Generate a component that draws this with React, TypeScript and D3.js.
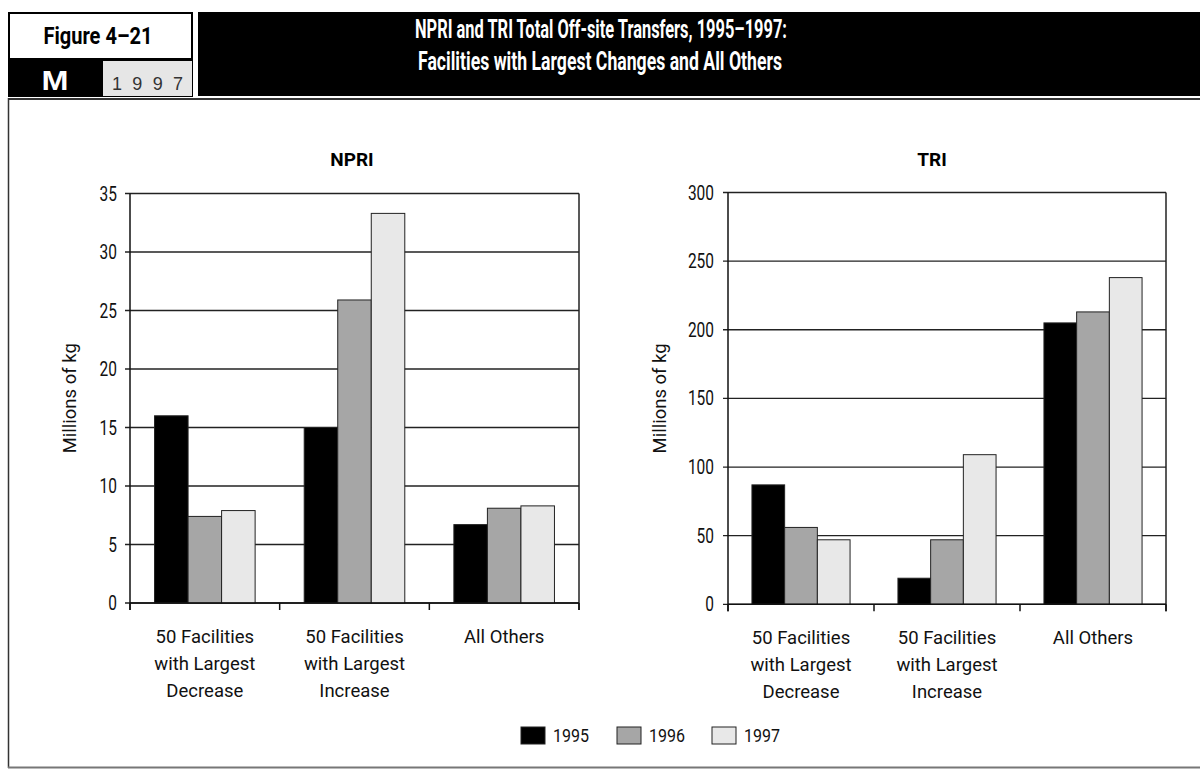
import React from "react";
import * as d3 from "d3";

const categories = ["dec", "inc", "others"];
const categoryLabels = [
  ["50 Facilities", "with Largest", "Decrease"],
  ["50 Facilities", "with Largest", "Increase"],
  ["All Others"],
];
const years = ["1995", "1996", "1997"];
const yearColors = ["#000000", "#a6a6a6", "#e8e8e8"];

const npri1995 = [16.0, 15.0, 6.7];
const npri1996 = [7.4, 25.9, 8.1];
const npri1997 = [7.9, 33.3, 8.3];
const npriTicks = [0, 5, 10, 15, 20, 25, 30, 35];

const tri1995 = [87, 19, 205];
const tri1996 = [56, 47, 213];
const tri1997 = [47, 109, 238];
const triTicks = [0, 50, 100, 150, 200, 250, 300];

const FONT = "Roboto, 'Liberation Sans', Arial, sans-serif";
const DIGIT_W = 8.7;

type PanelProps = {
  title: string;
  titleX: number;
  series: number[][];
  ticks: number[];
  yMax: number;
  x0: number;
  x1: number;
  yTop: number;
  yBottom: number;
  labelX: number;
  tickLabelGap: number;
};

function Panel(p: PanelProps) {
  const y = d3.scaleLinear().domain([0, p.yMax]).range([p.yBottom, p.yTop]);
  const xb = d3.scaleBand<string>().domain(categories).range([p.x0, p.x1]).padding(0);
  const bw = xb.bandwidth();
  const groupW = bw * 0.672;
  const xi = d3.scaleBand<string>().domain(years).range([0, groupW]).padding(0);
  const bandEdges = [...categories.map((c) => xb(c) as number), p.x1];
  return (
    <g>
      <text x={p.titleX} y={166} textAnchor="middle" fontFamily={FONT} fontWeight="bold" fontSize={19}>
        {p.title}
      </text>
      {p.ticks.map((t) => (
        <g key={t}>
          <line x1={p.x0 - 5} x2={p.x1} y1={y(t)} y2={y(t)} stroke="#222" strokeWidth={1.3} />
          <text
            x={p.x0 - 5 - p.tickLabelGap}
            y={y(t) + 7}
            textAnchor="end"
            fontFamily={FONT}
            fontSize={19.5}
            fill="#111"
            textLength={String(t).length * DIGIT_W}
            lengthAdjust="spacingAndGlyphs"
          >
            {t}
          </text>
        </g>
      ))}
      {categories.map((c, ci) =>
        years.map((yr, si) => {
          const v = p.series[si][ci];
          const bx = (xb(c) as number) + (bw - groupW) / 2 + (xi(yr) as number);
          return (
            <rect
              key={c + yr}
              x={bx}
              y={y(v)}
              width={xi.bandwidth()}
              height={y(0) - y(v)}
              fill={yearColors[si]}
              stroke="#222"
              strokeWidth={1}
            />
          );
        })
      )}
      <line x1={p.x0} x2={p.x0} y1={p.yTop} y2={p.yBottom + 7} stroke="#111" strokeWidth={1.5} />
      <line x1={p.x1} x2={p.x1} y1={p.yTop} y2={p.yBottom + 7} stroke="#222" strokeWidth={1.5} />
      <line x1={p.x0} x2={p.x1} y1={p.yBottom} y2={p.yBottom} stroke="#111" strokeWidth={1.5} />
      {bandEdges.map((e, i) => (
        <line key={i} x1={e} x2={e} y1={p.yBottom} y2={p.yBottom + 7} stroke="#111" strokeWidth={1.5} />
      ))}
      {categories.map((c, ci) =>
        categoryLabels[ci].map((ln, li) => (
          <text
            key={c + li}
            x={(xb(c) as number) + bw / 2}
            y={p.yBottom + 40 + li * 27}
            textAnchor="middle"
            fontFamily={FONT}
            fontSize={18.5}
            fill="#111"
          >
            {ln}
          </text>
        ))
      )}
      <text
        transform={`translate(${p.labelX},${(p.yTop + p.yBottom) / 2}) rotate(-90)`}
        textAnchor="middle"
        fontFamily={FONT}
        fontSize={18.5}
        fill="#111"
      >
        Millions of kg
      </text>
    </g>
  );
}

export default function App() {
  const legendX = [521, 617, 712];
  return (
    <svg width={1200} height={769} style={{ position: "absolute", left: 0, top: 0, background: "#fff" }}>
      {/* header */}
      <rect x={9} y={13} width={183} height={46} fill="#fff" stroke="#000" strokeWidth={2} />
      <text x={98} y={44} textAnchor="middle" fontFamily={FONT} fontWeight="bold" fontSize={23} textLength={109} lengthAdjust="spacingAndGlyphs">
        Figure 4–21
      </text>
      <rect x={8} y={60} width={185} height={37} fill="#000" />
      <rect x={103} y={61} width={89} height={35} fill="#e6e6e6" />
      <text x={55} y={90} textAnchor="middle" fill="#fff" fontFamily="'Liberation Sans', Arial, sans-serif" fontWeight="bold" fontSize={21} textLength={27} lengthAdjust="spacingAndGlyphs" transform="translate(55,90) scale(1,1.3) translate(-55,-90)">
        M
      </text>
      <text x={112} y={90} fill="#333" fontFamily="'Liberation Sans', Arial, sans-serif" fontSize={18} textLength={71} lengthAdjust="spacing">
        1997
      </text>
      <rect x={198} y={12} width={1002} height={84} fill="#000" />
      <text x={601} y={38} textAnchor="middle" fill="#fff" fontFamily={FONT} fontWeight="bold" fontSize={26} textLength={372} lengthAdjust="spacingAndGlyphs">
        NPRI and TRI Total Off-site Transfers, 1995–1997:
      </text>
      <text x={600} y={70} textAnchor="middle" fill="#fff" fontFamily={FONT} fontWeight="bold" fontSize={26} textLength={364} lengthAdjust="spacingAndGlyphs">
        Facilities with Largest Changes and All Others
      </text>
      {/* frame */}
      <line x1={8} x2={1200} y1={99} y2={99} stroke="#333" strokeWidth={2} />
      <line x1={8.5} x2={8.5} y1={98} y2={768} stroke="#333" strokeWidth={1.5} />
      <line x1={8} x2={1200} y1={767.5} y2={767.5} stroke="#777" strokeWidth={2} />

      <Panel
        title="NPRI"
        titleX={352}
        series={[npri1995, npri1996, npri1997]}
        ticks={npriTicks}
        yMax={35}
        x0={130}
        x1={579}
        yTop={193.5}
        yBottom={603}
        labelX={76}
        tickLabelGap={8}
      />
      <Panel
        title="TRI"
        titleX={932}
        series={[tri1995, tri1996, tri1997]}
        ticks={triTicks}
        yMax={300}
        x0={728}
        x1={1166}
        yTop={192.5}
        yBottom={604.3}
        labelX={666}
        tickLabelGap={9}
      />

      {years.map((yr, i) => (
        <g key={yr}>
          <rect x={legendX[i]} y={727} width={24} height={17} fill={yearColors[i]} stroke="#222" strokeWidth={1} />
          <text
            x={legendX[i] + 32}
            y={742}
            fontFamily={FONT}
            fontSize={18.5}
            fill="#111"
            textLength={36}
            lengthAdjust="spacingAndGlyphs"
          >
            {yr}
          </text>
        </g>
      ))}
    </svg>
  );
}
